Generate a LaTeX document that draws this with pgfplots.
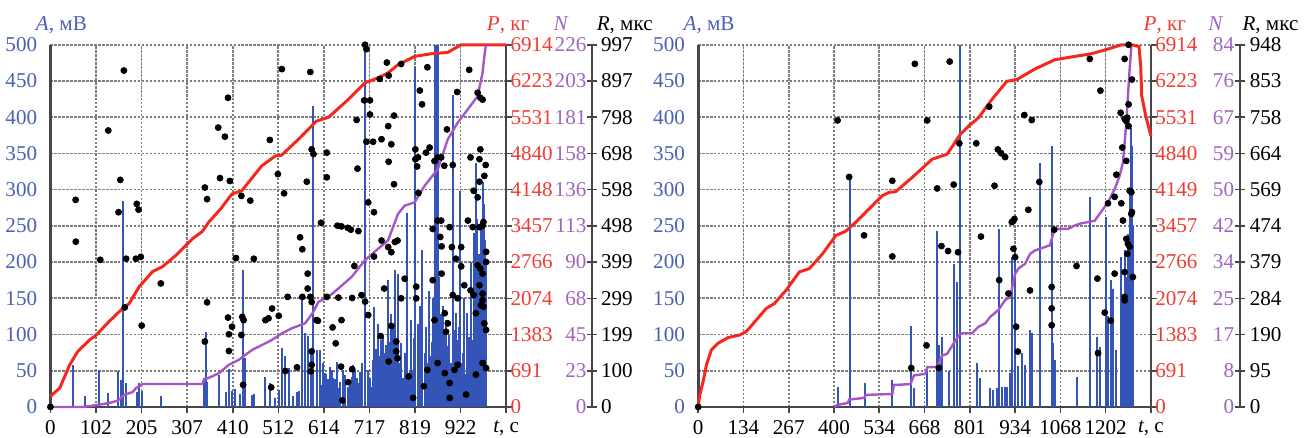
\documentclass[border=0pt]{standalone}
\usepackage{fontspec}
\setmainfont{Liberation Serif}
\usepackage{pgfplots}
\pgfplotsset{compat=1.18}

\definecolor{barblue}{RGB}{52,84,184}
\definecolor{labblue}{RGB}{75,95,180}
\definecolor{linered}{RGB}{245,40,30}
\definecolor{labred}{RGB}{240,60,50}
\definecolor{linepurple}{RGB}{165,85,200}
\definecolor{labpurple}{RGB}{160,100,190}
\definecolor{axisgray}{RGB}{70,70,70}
\definecolor{gridgray}{RGB}{125,125,125}

\newcommand{\lbl}{\fontsize{10.6}{12}\selectfont}

\pgfplotsset{
  base/.style={scale only axis, height=182pt, xmin=0, ymin=0, anchor=south west,
    clip=false,
    tick label style={font=\lbl, inner sep=1pt},
    xticklabel style={yshift=-2.5pt},
    /pgf/number format/assume math mode=true,
    axis line style={-, draw=axisgray, line width=1pt},
    tick align=outside, major tick length=3pt,
    tick style={draw=axisgray, line width=0.8pt}},
  over/.style={base, hide axis},
  mainax/.style={base, ymax=500,
    axis x line*=bottom, axis y line*=left,
    y axis line style={line width=1.6pt},
    ytick={0,50,...,500}, yticklabel style={text=labblue, xshift=-2.5pt},
    ytick style={draw=none},
    grid=major, major grid style={draw=gridgray, line width=0.85pt, dash pattern=on 1.2pt off 0.8pt}},
  pax/.style={base, ymax=6914, axis x line=none, axis y line*=right,
    ytick={0,691.4,1382.8,2074.2,2765.6,3457,4148.4,4839.8,5531.2,6222.6,6914},
    yticklabel style={text=labred, xshift=-2pt}},
  dummy/.style={base, width=10pt, xmin=0, xmax=1, ymax=10, ytick={0,...,10},
    axis x line=none, tick align=center, major tick length=5pt},
  bars/.style={ycomb, draw=barblue, line width=1pt, mark=none},
  pline/.style={linered, line width=1.5pt, mark=none},
  nline/.style={linepurple, line width=1.2pt, mark=none},
  dots/.style={only marks, mark=*, mark size=1.5pt, black},
}

\begin{document}
\begin{tikzpicture}
\path (-25.35pt,-15.5pt) rectangle (627pt,204.5pt);

% ---------------- left panel ----------------
\begin{axis}[mainax, width=229pt, at={(0pt,0pt)}, xmax=1024,
  xtick={0,102.4,204.8,307.2,409.6,512,614.4,716.8,819.2,921.6,1024},
  xticklabels={0,102,205,307,410,512,614,717,819,922,{\textit{t}, с}}]
\addplot[bars] coordinates {
(49.9,58) (76.7,15) (110,51) (128.8,19) (152.7,49) (158.8,37) (163.9,285) (170,33)
(195,20) (200,33) (205,22) (249.5,15) (346,40) (348.8,104) (352,35) (378.5,44)
(393.5,21) (401,53) (408,22) (415,25) (425,18) (432.9,189) (438,67) (453,16) (458,18)
(483,41) (494,33) (505,12) (512.7,24) (520,81) (527.7,70) (535,54) (546,15) (553.6,20)
(558,22) (564.8,150) (572.4,102) (579.8,98) (586,79) (591,415) (598.4,79) (606,79)
(610,30) (612,60) (617,47) (620,45) (624.6,38) (628,55) (632,51) (636,40) (639.9,38)
(643,62) (647,26) (651,35) (658,51) (662,44) (669,28) (673,30) (676.6,42) (680,58)
(684,51) (688,40) (691.6,33) (695,48) (700,60) (706,500) (713.5,51) (717,40) (720.5,28)
(724,65) (728,138) (732,80) (736,115) (740,70) (743.5,92) (747,100) (751,74) (755,85)
(758.6,175) (762,90) (766,129) (770,110) (773.5,189) (777,95) (781,184) (785,60)
(788.5,88) (792,40) (796,74) (798,45) (801,268) (805,38)
(808,51) (810,120) (813,51) (816,95) (819.7,470) (825.8,115) (830,140) (834.7,216)
(840.7,74) (845,110) (848,60) (851,160) (853,70) (855.5,51) (857,90) (859,150) (863,500)
(867,500) (871,500) (874,180) (877.9,129) (881,140) (885.5,106) (888,120) (892.8,84)
(896,100) (899,60) (904,431) (907.8,106) (911,130) (915.2,92) (918,110) (921.2,298)
(924,60) (926.5,74) (930,150) (933.8,46) (937,130) (941.4,97) (943,60) (945,200)
(948.7,92) (952,240) (956,337) (959,260) (961,180) (963.7,211) (967,250) (969,190)
(971.1,310) (974,280) (976,230) (979,200)
};
\node[anchor=base, text=labblue, font=\lbl, xshift=5.5pt, yshift=7pt] at (rel axis cs:0,1) {\textit{A}, мВ};
\end{axis}

\begin{axis}[pax, width=229pt, at={(0pt,0pt)}, xmax=1024,
  yticklabels={0,691,1383,2074,2766,3457,4148,4840,5531,6223,6914}]
\addplot[pline] coordinates {
(0,203) (20.8,361) (43.2,803) (61.7,1063) (87.9,1278) (102.9,1373) (132,1634) (162,1880)
(177,1975) (199.7,2299) (229.4,2584) (251.8,2678) (281.7,2893) (318.9,3210) (341.2,3349)
(356.2,3533) (382.4,3780) (407.6,4065) (430,4128) (474.7,4602) (505.3,4792) (519.4,4806)
(557.4,5110) (597.7,5457) (624.6,5528) (669.3,5870) (706.6,6187) (736.3,6282)
(758.6,6377) (781,6534) (818.4,6692) (855.5,6743) (892.7,6768) (922.6,6914) (1024,6914)
};
\node[anchor=base, text=labred, font=\lbl, xshift=1pt, yshift=7pt] at (rel axis cs:1,1) {\textit{P}, кг};
\end{axis}

\begin{axis}[over, width=229pt, at={(0pt,0pt)}, xmax=1024, ymax=226]
\addplot[nline] coordinates {
(0,0) (72.9,0) (102.9,1.1) (132.6,2.5) (151.2,3.9) (166.1,7.6) (184.7,9.3) (192.3,11.8)
(207.1,14.3) (341.2,14.3) (345,17) (363.6,19.1) (378.6,21.1) (401,26.3) (423.3,29.4)
(438.3,32.5) (453,35.6) (483,39.7) (497.7,41.8) (520.1,45.9) (542.5,49.1) (572.4,52.2)
(591,59.4) (602.1,65.6) (624.6,68.7) (646.9,73.9) (676.6,81.1) (706.6,91.5) (736.3,98.7)
(758.6,103.9) (781,120.5) (796,125.6) (818.4,127.7) (840.7,138) (870.5,148.4)
(892.8,167) (915.1,177.4) (937.5,185.6) (959.8,193.9) (971,208.4) (974.9,218.7) (978.5,226)
};
\end{axis}

\begin{axis}[over, width=229pt, at={(0pt,0pt)}, xmax=1024, ymax=997]
\addplot[dots] coordinates {
(0,0) (56.6,570) (130,761) (165,926) (157,625) (153,536) (194,559) (198,543) (377,769)
(392,744) (399,851) (347,604) (352,572) (381,630) (403,622) (429,581) (449,568) (493,735)
(511,641) (520,930) (525,588) (584,922) (576,620) (587,709) (591,696) (621,700) (621,632)
(57,455) (112,405) (167,274) (170,408) (192,408) (203,413) (205,224) (248,340) (352,288)
(347,180) (399,246) (401,200) (401,154) (408,221) (417,410) (431,248) (434,239) (429,198)
(433,61) (457,408) (483,239) (490,244) (498,271) (496,54) (513,251) (528,99) (533,303)
(554,109) (561,467) (566,434) (566,303) (578,367) (578,326) (584,303) (587,289) (587,153)
(587,116) (585,98) (598,239) (608,507) (621,303) (688,790) (690,656) (707,997) (710,985)
(705,844) (718,844) (718,805) (710,730) (725,730) (714,563) (727,536) (740,903) (760,912)
(756,948) (788,944) (744,737) (766,723) (759,773) (772,802) (760,675) (772,613) (820,709)
(826,687) (820,682) (824,662) (830,871) (835,833) (847,935) (844,700) (852,714) (863,677)
(870,687) (878,687) (885,664) (891,764) (904,666) (914,867) (827,589) (941,928) (960,865)
(966,851) (971,846) (944,687) (966,709) (964,682) (978,666) (975,636) (964,620) (951,595)
(960,577) (601,237) (645,499) (654,497) (668,493) (675,488) (692,484) (683,388) (647,301)
(678,300) (634,219) (654,239) (641,175) (653,111) (678,104) (669,68) (656,18) (699,308)
(707,290) (714,253) (727,414) (744,458) (759,440) (766,426) (774,454) (780,458) (750,326)
(742,195) (766,223) (777,180) (777,153) (780,134) (760,125) (788,299) (796,353) (805,84)
(815,25) (822,331) (822,299) (859,490) (870,513) (878,513) (876,468) (879,442) (859,349)
(879,367) (863,239) (886,258) (893,230) (889,207) (839,57) (847,102) (870,121) (886,93)
(897,495) (902,440) (904,308) (897,66) (897,25) (911,408) (923,387) (923,440) (930,335)
(915,299) (915,116) (908,102) (934,34) (938,513) (949,495) (964,495) (971,499) (973,509)
(944,321) (951,308) (960,390) (966,381) (971,367) (964,335) (971,312) (971,294) (967,280)
(973,276) (956,258) (979,427) (979,399) (975,230) (979,212) (979,107) (971,121) (956,89)
};
\end{axis}

\begin{axis}[dummy, at={(272pt,0pt)}, axis y line*=left,
  yticklabels={0,23,45,68,90,113,136,158,181,203,226},
  yticklabel style={text=labpurple, xshift=1pt}]
\node[anchor=base east, text=labpurple, font=\lbl, xshift=-8pt, yshift=7pt] at (rel axis cs:0,1) {\textit{N}};
\end{axis}
\begin{axis}[dummy, at={(272pt,0pt)}, anchor=south east, axis y line*=right,
  yticklabels={0,100,199,299,399,498,598,698,798,897,997},
  yticklabel style={text=black, xshift=1pt}]
\node[anchor=base west, font=\lbl, xshift=-1pt, yshift=7pt] at (rel axis cs:1,1) {\textit{R}, мкс};
\end{axis}

% ---------------- right panel ----------------
\begin{axis}[mainax, width=227.5pt, at={(325.5pt,0pt)}, xmax=1335,
  xtick={0,133.5,267,400.5,534,667.5,801,934.5,1068,1201.5,1335},
  xticklabels={0,134,267,400,534,668,801,934,1068,1202,{\textit{t}, с}}]
\addplot[bars] coordinates {
(411,27.5) (447.2,317) (491.2,33) (572.5,36.7) (628.3,112) (636,26) (675.3,56) (704.6,243)
(709.5,85) (714,60) (719.3,97) (738.7,49) (753.4,197) (763.4,173) (773,500) (822,60)
(831.8,40) (861,26) (870,24) (880.8,26) (887.6,246) (897,28) (904,28) (910,28) (919.9,47)
(926.6,207) (934.6,221) (944.2,56) (954.2,74) (963.9,58) (978.6,106) (985.4,102)
(1008,337) (1042.3,360) (1047,88) (1052,65) (1115.6,42) (1155.6,290) (1177.3,97)
(1184,83) (1203.8,262) (1208.5,125) (1218.4,175) (1223,163) (1233,79) (1247.8,207)
(1252,150) (1257.5,216) (1262,180) (1267,239) (1272,300) (1275,330) (1277,385) (1280,360)
(1283,250)
};
\node[anchor=base, text=labblue, font=\lbl, xshift=5.5pt, yshift=7pt] at (rel axis cs:0,1) {\textit{A}, мВ};
\end{axis}

\begin{axis}[pax, width=227.5pt, at={(325.5pt,0pt)}, xmax=1335,
  yticklabels={0,691,1383,2074,2766,3457,4149,4840,5531,6223,6914}]
\addplot[pline] coordinates {
(0,0) (4.7,234) (14.7,488) (24.4,804) (39,1089) (58.7,1216) (88.1,1324) (122.1,1373)
(141.8,1438) (171.2,1658) (200.5,1880) (224.9,1975) (259.2,2228) (298.3,2578)
(327.7,2640) (367,2925) (406,3273) (435.4,3356) (464.8,3527) (503.8,3780) (543.2,4033)
(562.6,4097) (582.2,4109) (631.2,4382) (690,4730) (734,4825) (773,5205) (797.4,5362)
(826.8,5522) (866.1,5870) (910.2,6217) (939.5,6249) (993.3,6453) (1052,6629)
(1110.7,6692) (1159.7,6743) (1208.5,6833) (1247.8,6914) (1277.5,6914) (1300,6880)
(1305,6500) (1308,5932) (1320,5552) (1335,5172)
};
\node[anchor=base, text=labred, font=\lbl, xshift=7pt, yshift=7pt] at (rel axis cs:1,1) {\textit{P}, кг};
\end{axis}

\begin{axis}[over, width=227.5pt, at={(325.5pt,0pt)}, xmax=1335, ymax=84]
\addplot[nline] coordinates {
(401,0) (411,0.5) (440.4,0.9) (445,1.7) (489.1,2.1) (494.1,2.8) (572.5,3) (577.2,5.1)
(626.2,5.3) (636,7.3) (670.3,7.7) (675.3,9.2) (704.6,9.3) (719.3,11.9) (734,12.3)
(758.4,15.4) (773,17.1) (807.4,17.1) (826.8,18.6) (846.5,19.4) (861.1,20.9) (885.5,22.5)
(905.2,24.8) (919.9,25.5) (934.6,30.9) (944.2,32.1) (963.9,33.2) (978.6,35.5)
(993.3,36.3) (1022.7,37.1) (1037.3,37.5) (1047,40.2) (1052,41.3) (1091,41.3)
(1110.7,42.1) (1125.4,42.5) (1169.4,43.2) (1184.1,44.8) (1208.5,47.5) (1228.1,50.5)
(1242.8,53.6) (1252.5,56.7) (1257.5,61.3) (1262.5,65.9) (1267.2,72.1) (1272.2,78.2)
(1277.2,83.6)
};
\end{axis}

\begin{axis}[over, width=227.5pt, at={(325.5pt,0pt)}, xmax=1335, ymax=948]
\addplot[dots] coordinates {
(0,0) (411,750) (445.1,602) (489.1,449) (572.5,592) (572.5,394) (628.3,102) (638.9,898)
(673.2,161) (675.3,750) (704.6,572) (709.5,102) (717.3,421) (736.9,408) (741.6,904)
(753.4,582) (766.3,405) (770.1,690) (820,690) (833.8,446) (858.2,786) (873.8,579)
(883.7,674) (893.4,664) (905.2,654) (887.6,332) (914.9,297) (924.8,484) (929.6,488)
(932.5,492) (929.6,414) (934.6,392) (937.5,210) (942.5,145) (961.8,764) (973.6,516)
(978.6,305) (983.6,751) (1005.9,589) (1042.3,314) (1042.3,258) (1042.3,214) (1050,464)
(1115.6,369) (1154.7,911) (1177.3,336) (1179.1,141) (1186.1,828) (1198.8,247)
(1208.5,533) (1216.4,226) (1228.1,550) (1228.1,349) (1233.1,608) (1245.8,770)
(1247.8,533) (1250.7,679) (1252.5,488) (1257.5,754) (1257.5,911) (1257.5,353)
(1257.5,288) (1257.5,279) (1262.5,748) (1262.5,644) (1262.5,440) (1265.4,757)
(1265.4,401) (1267.2,427) (1269.2,735) (1269.2,948) (1269.2,792) (1272.2,419)
(1272.2,566) (1277.2,562) (1277.2,505) (1279,510) (1279,857) (1281.9,340)
};
\end{axis}

\begin{axis}[dummy, at={(598pt,0pt)}, axis y line*=left,
  yticklabels={0,8,17,25,34,42,50,59,67,76,84},
  yticklabel style={text=labpurple, xshift=0.5pt}]
\node[anchor=base east, text=labpurple, font=\lbl, xshift=-5pt, yshift=7pt] at (rel axis cs:0,1) {\textit{N}};
\end{axis}
\begin{axis}[dummy, at={(598pt,0pt)}, anchor=south east, axis y line*=right,
  yticklabels={0,95,190,284,379,474,569,664,758,853,948},
  yticklabel style={text=black, xshift=1pt}]
\node[anchor=base west, font=\lbl, xshift=-2.5pt, yshift=7pt] at (rel axis cs:1,1) {\textit{R}, мкс};
\end{axis}
\end{tikzpicture}
\end{document}
